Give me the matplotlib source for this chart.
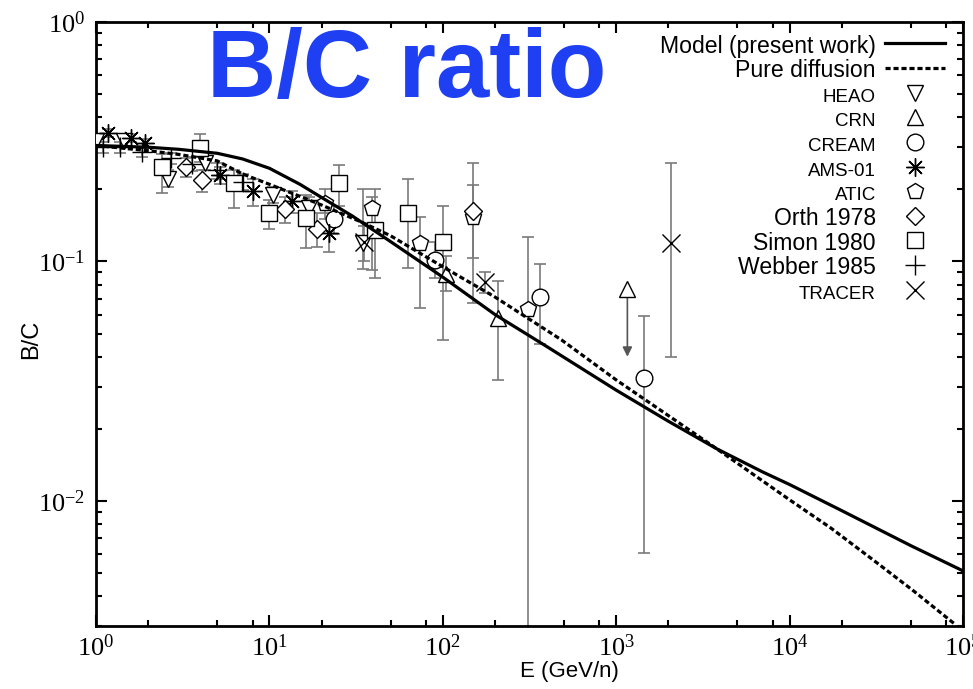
import matplotlib
matplotlib.use('Agg')
import matplotlib.pyplot as plt
from matplotlib.ticker import LogLocator, NullFormatter

plt.rcParams['axes.unicode_minus'] = False

# Curvas del modelo
model_E = [1, 2, 3, 5, 7, 10, 15, 20, 30, 50, 100, 200, 400, 1000, 2000, 3800, 7000, 10000, 20000, 50000, 100000]
model_BC = [0.305, 0.300, 0.294, 0.283, 0.268, 0.245, 0.210, 0.185, 0.155, 0.121, 0.086, 0.060, 0.044, 0.029,
            0.0215, 0.0165, 0.0132, 0.0117, 0.0091, 0.0065, 0.0051]
diff_E = [1, 2, 3, 5, 7, 10, 15, 20, 34, 50, 100, 200, 484, 1000, 2340, 3800, 10000, 17300, 30000, 52000, 90000]
diff_BC = [0.305, 0.290, 0.280, 0.263, 0.232, 0.210, 0.187, 0.172, 0.146, 0.128, 0.095, 0.071, 0.047, 0.032,
           0.021, 0.0165, 0.0101, 0.0077, 0.0057, 0.0042, 0.00305]

# Datos experimentales: energia, valor, limite inferior, limite superior
heao_E = [1.0, 1.45, 2.6, 4.25, 10.5, 17, 34.6]
heao_BC = [0.320, 0.320, 0.222, 0.257, 0.189, 0.168, 0.119]
heao_lo = [0.305, 0.305, 0.205, 0.240, 0.175, 0.155, 0.093]
heao_hi = [0.335, 0.335, 0.240, 0.275, 0.205, 0.185, 0.200]

crn_E = [105, 207]
crn_BC = [0.089, 0.058]
crn_lo = [0.075, 0.032]
crn_hi = [0.105, 0.083]
crn_lim_E = [1160]
crn_lim_BC = [0.077]
crn_lim_to = [0.040]

cream_E = [23.5, 90, 363, 1450]
cream_BC = [0.150, 0.101, 0.0707, 0.0327]
cream_lo = [0.130, 0.085, 0.0454, 0.00606]
cream_hi = [0.170, 0.120, 0.0973, 0.0594]

ams_E = [1.17, 1.6, 1.92, 5.2, 8.0, 13.5, 22.0]
ams_BC = [0.343, 0.327, 0.312, 0.229, 0.196, 0.178, 0.132]
ams_lo = [0.330, 0.315, 0.298, 0.210, 0.170, 0.160, 0.109]
ams_hi = [0.356, 0.340, 0.326, 0.248, 0.220, 0.196, 0.160]

atic_E = [21, 39, 73.6, 150, 311]
atic_BC = [0.176, 0.168, 0.119, 0.153, 0.0636]
atic_lo = [0.150, 0.092, 0.064, 0.067, 0.002]
atic_hi = [0.200, 0.185, 0.153, 0.208, 0.126]

orth_E = [3.3, 4.1, 12.3, 18.9, 150]
orth_BC = [0.247, 0.218, 0.165, 0.136, 0.163]
orth_lo = [0.225, 0.195, 0.145, 0.115, 0.103]
orth_hi = [0.270, 0.240, 0.185, 0.160, 0.259]

simon_E = [2.4, 4.0, 6.25, 9.9, 16.2, 25.2, 40.5, 63, 100]
simon_BC = [0.247, 0.297, 0.212, 0.159, 0.152, 0.212, 0.135, 0.159, 0.120]
simon_lo = [0.193, 0.260, 0.167, 0.137, 0.114, 0.170, 0.085, 0.094, 0.047]
simon_hi = [0.280, 0.340, 0.240, 0.180, 0.190, 0.254, 0.200, 0.222, 0.171]

webber_E = [1.1, 1.37, 1.84, 2.7, 3.6, 5.0, 7.0]
webber_BC = [0.300, 0.300, 0.286, 0.270, 0.255, 0.240, 0.215]
webber_lo = [0.285, 0.285, 0.272, 0.255, 0.238, 0.222, 0.198]
webber_hi = [0.315, 0.315, 0.300, 0.285, 0.272, 0.258, 0.232]

tracer_E = [35, 175, 2080]
tracer_BC = [0.120, 0.0817, 0.119]
tracer_lo = [0.100, 0.074, 0.0397]
tracer_hi = [0.140, 0.090, 0.257]

fig = plt.figure(figsize=(9.73, 6.89), dpi=100)
ax = fig.add_axes([0.0987, 0.0914, 0.891, 0.8766])
ax.set_xscale('log')
ax.set_yscale('log')
ax.set_xlim(1, 1e5)
ax.set_ylim(0.003, 1)

ax.plot(model_E, model_BC, color='black', lw=2.3, zorder=5, label='Model (present work)')
ax.plot(diff_E, diff_BC, color='black', lw=2.3, ls=(0, (1.6, 0.9)), zorder=5, label='Pure diffusion')

series = [
    (heao_E, heao_BC, heao_lo, heao_hi, 'v', 'HEAO'),
    (crn_E, crn_BC, crn_lo, crn_hi, '^', 'CRN'),
    (cream_E, cream_BC, cream_lo, cream_hi, 'o', 'CREAM'),
    (ams_E, ams_BC, ams_lo, ams_hi, (8, 2, 0), 'AMS-01'),
    (atic_E, atic_BC, atic_lo, atic_hi, 'p', 'ATIC'),
    (orth_E, orth_BC, orth_lo, orth_hi, 'D', 'Orth 1978'),
    (simon_E, simon_BC, simon_lo, simon_hi, 's', 'Simon 1980'),
    (webber_E, webber_BC, webber_lo, webber_hi, '+', 'Webber 1985'),
    (tracer_E, tracer_BC, tracer_lo, tracer_hi, 'x', 'TRACER'),
]
sizes = {'v': 12, '^': 12, 'o': 12, 'p': 12, 'D': 9, 's': 12, '+': 14, 'x': 13}
for E, bc, lo, hi, mk, name in series:
    yerr = [[b - l for b, l in zip(bc, lo)], [h - b for b, h in zip(bc, hi)]]
    ax.errorbar(E, bc, yerr=yerr, fmt='none', ecolor='#7a7a7a', elinewidth=1.2,
                capsize=4, capthick=1.2, zorder=2)
    ms = sizes.get(mk, 13) if isinstance(mk, str) else 13
    ax.plot(E, bc, ls='none', marker=mk, ms=ms, mfc='white', mec='black', mew=1.0,
            zorder=3, label=name)
    if name == 'CRN':
        ax.plot(crn_lim_E, crn_lim_BC, ls='none', marker=mk, ms=ms, mfc='white',
                mec='black', mew=1.0, zorder=4)
        for e, b0, b1 in zip(crn_lim_E, crn_lim_BC, crn_lim_to):
            ax.annotate('', xy=(e, b1), xytext=(e, b0 * 0.93),
                        arrowprops=dict(arrowstyle='-|>', color='#555555', lw=1.2,
                                        mutation_scale=14, shrinkA=0, shrinkB=0))

ax.text(0.128, 0.876, 'B/C ratio', transform=ax.transAxes, fontsize=69,
        fontweight='bold', color='#1e3ff2', family='Liberation Sans', va='baseline')

ax.xaxis.set_major_locator(LogLocator(base=10, numticks=10))
ax.xaxis.set_minor_locator(LogLocator(base=10, subs=[2, 5, 8], numticks=10))
ax.xaxis.set_minor_formatter(NullFormatter())
ax.yaxis.set_major_locator(LogLocator(base=10, numticks=10))
ax.yaxis.set_minor_locator(LogLocator(base=10, subs=range(2, 10), numticks=10))
ax.yaxis.set_minor_formatter(NullFormatter())
ax.tick_params(which='both', direction='in', top=True, right=True, width=1.5,
               labelsize=19, labelfontfamily='Liberation Serif')
ax.tick_params(which='major', length=8)
ax.tick_params(axis='x', which='major', pad=6)
ax.tick_params(axis='y', which='major', pad=8)
ax.tick_params(which='minor', length=4.5)
for s in ax.spines.values():
    s.set_linewidth(2.0)

ax.set_xlabel('E (GeV/n)', fontsize=16, family='Liberation Sans', labelpad=0, x=0.5455)
ax.set_ylabel('B/C', fontsize=17, family='Liberation Sans', labelpad=-3, y=0.475)

leg = ax.legend(loc='upper right', bbox_to_anchor=(0.979, 0.980), markerfirst=False,
                frameon=False, borderpad=0, borderaxespad=0, labelspacing=0,
                handlelength=3.2, handleheight=1.645, handletextpad=0.48,
                markerscale=1.0, prop={'family': 'Liberation Sans', 'size': 13.5})
for t in leg.get_texts():
    if t.get_text() in ('Model (present work)', 'Pure diffusion', 'Orth 1978',
                        'Simon 1980', 'Webber 1985'):
        t.set_fontsize(16.6)

fig.savefig('out.png', dpi=100)
